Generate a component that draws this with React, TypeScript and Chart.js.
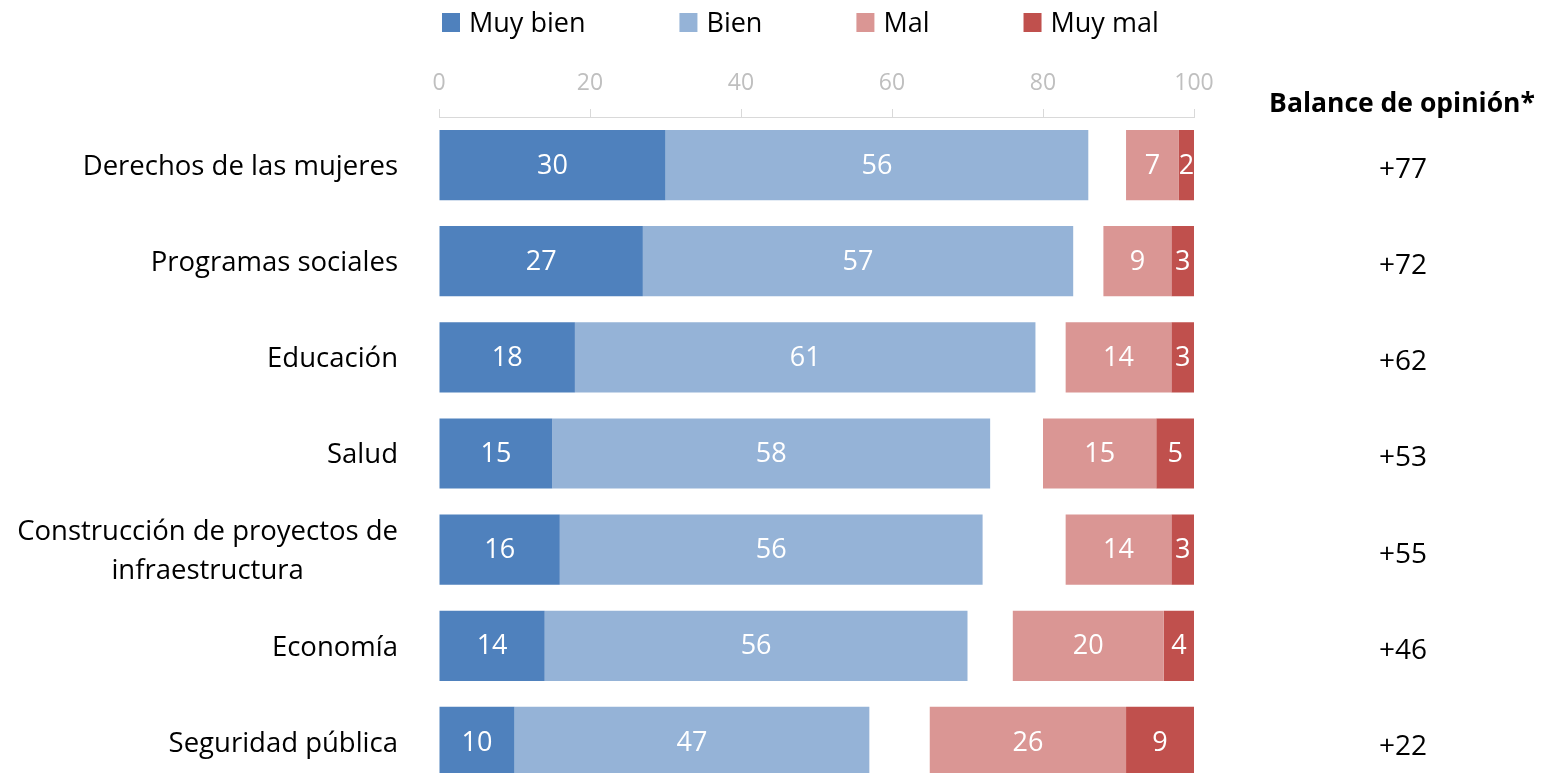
import React, { useEffect, useRef } from "react";
import { Chart, registerables } from "chart.js";
Chart.register(...registerables);

const categories: string[][] = [
  ["Derechos de las mujeres"],
  ["Programas sociales"],
  ["Educación"],
  ["Salud"],
  ["Construcción de proyectos de", "infraestructura"],
  ["Economía"],
  ["Seguridad pública"],
];
const muyBien = [30, 27, 18, 15, 16, 14, 10];
const bien = [56, 57, 61, 58, 56, 56, 47];
const mal = [7, 9, 14, 15, 14, 20, 26];
const muyMal = [2, 3, 3, 5, 3, 4, 9];
const balance = ["+77", "+72", "+62", "+53", "+55", "+46", "+22"];
const balanceTitle = "Balance de opinión*";
const seriesNames = ["Muy bien", "Bien", "Mal", "Muy mal"];
const seriesColors = ["#4f81bd", "#95b3d7", "#da9694", "#c0504d"];
const xMin = 0;
const xMax = 100;
const xStep = 20;

const FONT = "'Open Sans', 'Noto Sans', sans-serif";

export default function App() {
  const ref = useRef<HTMLCanvasElement | null>(null);

  useEffect(() => {
    if (!ref.current) return;
    const gap = muyBien.map((_, i) => xMax - muyBien[i] - bien[i] - mal[i] - muyMal[i]);

    const overlay = {
      id: "overlay",
      afterDatasetsDraw(chart: any) {
        const ctx = chart.ctx;
        ctx.save();
        ctx.fillStyle = "#ffffff";
        ctx.font = `27px ${FONT}`;
        ctx.textAlign = "center";
        ctx.textBaseline = "middle";
        chart.data.datasets.forEach((ds: any, di: number) => {
          if (ds.isGap) return;
          const meta = chart.getDatasetMeta(di);
          meta.data.forEach((bar: any, i: number) => {
            const v = ds.data[i];
            const cx = (bar.x + bar.base) / 2;
            ctx.fillText(String(v), cx, bar.y + 1);
          });
        });
        ctx.restore();
      },
      afterDraw(chart: any) {
        const ctx = chart.ctx;
        const yScale = chart.scales.y;
        ctx.save();
        // category labels
        ctx.fillStyle = "#000000";
        ctx.font = `27.5px ${FONT}`;
        ctx.textBaseline = "middle";
        const lineH = 39;
        categories.forEach((lines, i) => {
          const y = yScale.getPixelForValue(i) + 2;
          const widths = lines.map((l) => ctx.measureText(l).width);
          const maxW = Math.max(...widths);
          const right = chart.chartArea.left - 41;
          const center = right - maxW / 2;
          lines.forEach((l, li) => {
            const ly = y + (li - (lines.length - 1) / 2) * lineH;
            ctx.textAlign = "center";
            ctx.fillText(l, center, ly);
          });
        });
        // balance column
        const colX = 1402;
        ctx.textAlign = "center";
        ctx.font = `bold 26.5px ${FONT}`;
        ctx.fillText(balanceTitle, colX, 104);
        ctx.font = `28px ${FONT}`;
        balance.forEach((b, i) => {
          ctx.fillText(b, colX + 1, yScale.getPixelForValue(i) + 5);
        });
        // legend
        ctx.font = `27px ${FONT}`;
        ctx.textBaseline = "alphabetic";
        let x = 442;
        seriesNames.forEach((name, i) => {
          ctx.fillStyle = seriesColors[i];
          ctx.fillRect(x, 13, 18, 19);
          ctx.fillStyle = "#000000";
          ctx.textAlign = "left";
          ctx.fillText(name, x + 27, 32);
          x += 27 + ctx.measureText(name).width + 94;
        });
        ctx.restore();
      },
    };

    const mk = (label: string, data: number[], color: string, isGap = false) => ({
      label,
      data,
      backgroundColor: color,
      borderWidth: 0,
      isGap,
      barPercentage: 0.73,
      categoryPercentage: 1,
    });

    const chart = new Chart(ref.current, {
      type: "bar",
      data: {
        labels: categories.map((c) => c.join(" ")),
        datasets: [
          mk(seriesNames[0], muyBien, seriesColors[0]),
          mk(seriesNames[1], bien, seriesColors[1]),
          mk("gap", gap, "rgba(0,0,0,0)", true),
          mk(seriesNames[2], mal, seriesColors[2]),
          mk(seriesNames[3], muyMal, seriesColors[3]),
        ] as any,
      },
      options: {
        indexAxis: "y",
        animation: false,
        responsive: false,
        maintainAspectRatio: false,
        layout: { padding: { left: 439, right: 349, top: 57.4, bottom: 10 } },
        plugins: { legend: { display: false }, tooltip: { enabled: false } },
        scales: {
          x: {
            stacked: true,
            position: "top",
            min: xMin,
            max: xMax,
            ticks: {
              stepSize: xStep,
              color: "#bfbfbf",
              font: { family: FONT, size: 23 },
              padding: 12,
            },
            grid: { drawOnChartArea: false, color: "#d9d9d9", tickLength: 8 },
            border: { color: "#d9d9d9" },
          },
          y: { stacked: true, display: false },
        },
      } as any,
      plugins: [overlay],
    });
    return () => chart.destroy();
  }, []);

  return (
    <div style={{ position: "fixed", left: 0, top: 0, width: 1543, height: 773, overflow: "hidden", background: "#ffffff" }}>
      <canvas ref={ref} width={1543} height={800} style={{ display: "block" }} />
    </div>
  );
}
